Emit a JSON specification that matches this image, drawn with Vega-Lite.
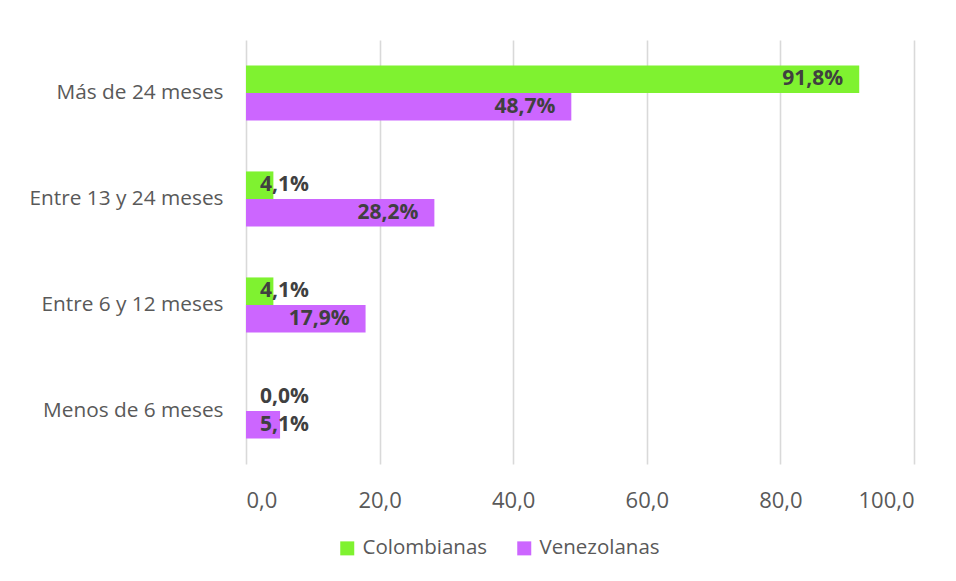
{
  "$schema": "https://vega.github.io/schema/vega-lite/v6.json",
  "autosize": "none",
  "width": 668,
  "height": 424,
  "padding": {"left": 246, "top": 40, "right": 42, "bottom": 117},
  "background": "white",
  "config": {
    "view": {"stroke": null},
    "font": "Open Sans",
    "axis": {"labelFont": "Open Sans", "labelColor": "#595959", "labelFontSize": 20}
  },
  "data": {
    "values": [
      {"periodo": "Más de 24 meses", "grupo": "Colombianas", "valor": 91.8},
      {"periodo": "Más de 24 meses", "grupo": "Venezolanas", "valor": 48.7},
      {"periodo": "Entre 13 y 24 meses", "grupo": "Colombianas", "valor": 4.1},
      {"periodo": "Entre 13 y 24 meses", "grupo": "Venezolanas", "valor": 28.2},
      {"periodo": "Entre 6 y 12 meses", "grupo": "Colombianas", "valor": 4.1},
      {"periodo": "Entre 6 y 12 meses", "grupo": "Venezolanas", "valor": 17.9},
      {"periodo": "Menos de 6 meses", "grupo": "Colombianas", "valor": 0.0},
      {"periodo": "Menos de 6 meses", "grupo": "Venezolanas", "valor": 5.1}
    ]
  },
  "encoding": {
    "y": {
      "field": "periodo",
      "type": "nominal",
      "sort": ["Más de 24 meses", "Entre 13 y 24 meses", "Entre 6 y 12 meses", "Menos de 6 meses"],
      "scale": {"paddingInner": 0.48, "paddingOuter": 0.24},
      "axis": {"title": null, "ticks": false, "domain": false, "labelPadding": 23, "labelLimit": 400, "labelFontSize": 20.8}
    },
    "yOffset": {
      "field": "grupo",
      "type": "nominal",
      "sort": ["Colombianas", "Venezolanas"],
      "scale": {"paddingInner": 0, "paddingOuter": 0}
    }
  },
  "layer": [
    {
      "mark": {"type": "bar"},
      "encoding": {
        "x": {
          "field": "valor",
          "type": "quantitative",
          "scale": {"domain": [0, 100], "nice": false},
          "axis": {
            "title": null,
            "values": [0, 20, 40, 60, 80, 100],
            "labelExpr": "replace(format(datum.value, '.1f'), '.', ',')",
            "ticks": false,
            "domain": false,
            "labelPadding": 26,
            "labelFontSize": 22,
            "grid": true,
            "gridColor": "#d9d9d9",
            "gridWidth": 1.6
          }
        },
        "color": {
          "field": "grupo",
          "type": "nominal",
          "sort": ["Colombianas", "Venezolanas"],
          "scale": {"domain": ["Colombianas", "Venezolanas"], "range": ["#7ff230", "#cc66ff"]},
          "legend": {
            "title": null,
            "orient": "none",
            "direction": "horizontal",
            "legendX": 91,
            "legendY": 498,
            "symbolType": "square",
            "symbolSize": 196,
            "symbolStrokeWidth": 0,
            "symbolOpacity": 1,
            "labelFont": "Open Sans",
            "labelFontSize": 20.5,
            "labelColor": "#595959",
            "labelOffset": 5,
            "columnPadding": 26
          }
        }
      }
    },
    {
      "transform": [
        {"calculate": "max(datum.valor, 11.8)", "as": "pos"},
        {"calculate": "replace(format(datum.valor, '.1f'), '.', ',') + '%'", "as": "etiqueta"}
      ],
      "mark": {"type": "text", "align": "right", "baseline": "middle", "dx": -16, "fontSize": 21, "fontWeight": "bold", "font": "Open Sans", "color": "#404040"},
      "encoding": {
        "x": {"field": "pos", "type": "quantitative"},
        "text": {"field": "etiqueta"}
      }
    }
  ]
}
